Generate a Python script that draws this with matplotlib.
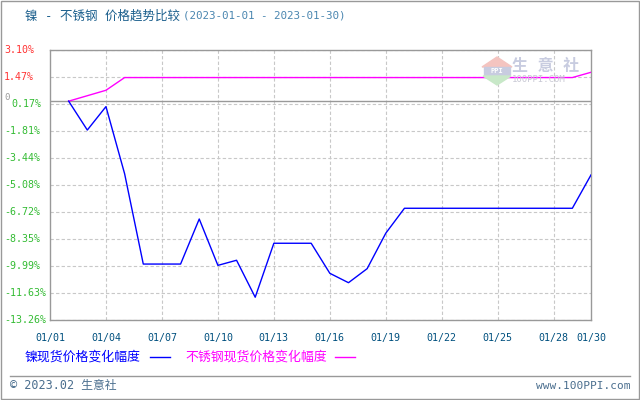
import matplotlib
matplotlib.use("Agg")
import matplotlib.pyplot as plt
from matplotlib.patches import Polygon, Rectangle
from matplotlib.lines import Line2D

plt.rcParams['font.family'] = ['DejaVu Sans Mono', 'Noto Sans CJK SC']

# days of January 2023
days = list(range(2, 31))
nickel = [0.0, -1.75, -0.33, -4.4, -9.87, -9.87, -9.87, -7.14, -9.95, -9.64,
          -11.88, -8.61, -8.61, -8.61, -10.43, -11.0, -10.15, -8.0, -6.49,
          -6.49, -6.49, -6.49, -6.49, -6.49, -6.49, -6.49, -6.49, -6.49, -4.47]
steel = [0.0, 0.33, 0.66, 1.43, 1.43, 1.43, 1.43, 1.43, 1.43, 1.43,
         1.43, 1.43, 1.43, 1.43, 1.43, 1.43, 1.43, 1.43, 1.43,
         1.43, 1.43, 1.43, 1.43, 1.43, 1.43, 1.43, 1.43, 1.43, 1.75]

y_ticks = [3.10, 1.47, -0.17, -1.81, -3.44, -5.08, -6.72, -8.35, -9.99, -11.63, -13.26]
y_labels = ['3.10%', '1.47%', '0.17%', '-1.81%', '-3.44%', '-5.08%', '-6.72%',
            '-8.35%', '-9.99%', '-11.63%', '-13.26%']
x_ticks = [1, 4, 7, 10, 13, 16, 19, 22, 25, 28, 30]
x_labels = ['01/01', '01/04', '01/07', '01/10', '01/13', '01/16', '01/19',
            '01/22', '01/25', '01/28', '01/30']

W, H = 640, 400


def fx(px):
    return px / W


def fy(py):
    return 1 - py / H


fig = plt.figure(figsize=(6.4, 4.0), dpi=100)
ax = fig.add_axes([fx(50), fy(320), fx(591) - fx(50), fy(50) - fy(320)])

ax.set_xlim(1, 30)
ax.set_ylim(-13.26, 3.10)

# grid
for t in y_ticks:
    ax.axhline(t, color='#c8c8c8', lw=0.8, ls=(0, (3, 2)), zorder=1)
for t in x_ticks[1:-1]:
    ax.axvline(t, color='#c8c8c8', lw=0.8, ls=(0, (3, 2)), zorder=1)
ax.axhline(0, color='#999999', lw=1.0, zorder=2)

for s in ax.spines.values():
    s.set_color('#999999')
    s.set_linewidth(1.0)

ax.set_xticks([])
ax.set_yticks([])

# watermark
ax_px = lambda px, py: (fx(px), fy(py))
fig.patches.append(Polygon([ax_px(497, 57), ax_px(482, 67), ax_px(512, 67)],
                           closed=True, transform=fig.transFigure,
                           color='#f4c4c0', zorder=0))
fig.patches.append(Rectangle(ax_px(484, 75), fx(26), fy(67) - fy(75),
                             transform=fig.transFigure, color='#c8cce0', zorder=0))
fig.patches.append(Polygon([ax_px(483, 76), ax_px(511, 76), ax_px(497, 85)],
                           closed=True, transform=fig.transFigure,
                           color='#c8e8c8', zorder=0))
fig.text(fx(497), fy(71), 'PPI', fontsize=5, color='white', ha='center',
         va='center', weight='bold')
fig.text(fx(512), fy(66), '生 意 社', fontsize=11.5, color='#c8cce0',
         ha='left', va='center', weight='bold')
fig.text(fx(512), fy(80), '100PPI.COM', fontsize=6.5, color='#c8c8d4',
         ha='left', va='center')

ax.plot(days, steel, color='#ff00ff', lw=1.0, zorder=4)
ax.plot(days, nickel, color='#0000ff', lw=1.0, zorder=5)

# y tick labels (left aligned like the source)
for t, lab in zip(y_ticks, y_labels):
    c = '#ff3333' if t > 0 else '#33bb33'
    x0 = 11 if lab == '0.17%' else 4
    fig.text(fx(x0), ax.transData.transform((1, t))[1] / (H), lab,
             ha='left', va='center', fontsize=7.2, color=c)
fig.text(fx(4), fy(98), '0', fontsize=6.5, color='#999999', ha='left', va='center')

# x tick labels
for t, lab in zip(x_ticks, x_labels):
    ax.text(t, -0.065, lab, transform=ax.get_xaxis_transform(), ha='center',
            va='center', fontsize=7.2, color='#00507f')

# title
fig.text(fx(25), fy(16), '镍 - 不锈钢 价格趋势比较', fontsize=9, color='#1a5e8c',
         ha='left', va='center')
fig.text(fx(183), fy(16), '(2023-01-01 - 2023-01-30)', fontsize=7.8,
         color='#4a86b0', ha='left', va='center')

# legend
fig.text(fx(25), fy(357), '镍现货价格变化幅度', fontsize=9.3, color='#0000ff',
         ha='left', va='center')
fig.add_artist(Line2D([fx(150), fx(170)], [fy(357), fy(357)], color='#0000ff',
                      lw=1.0, transform=fig.transFigure))
fig.text(fx(185), fy(357), '不锈钢现货价格变化幅度', fontsize=9.3, color='#ff00ff',
         ha='left', va='center')
fig.add_artist(Line2D([fx(335), fx(355)], [fy(357), fy(357)], color='#ff00ff',
                      lw=1.0, transform=fig.transFigure))

# footer
fig.add_artist(Line2D([fx(10), fx(630)], [fy(376), fy(376)], color='#999999',
                      lw=1.0, transform=fig.transFigure))
fig.text(fx(10), fy(386), '© 2023.02 生意社', fontsize=8.5, color='#4a6e8e',
         ha='left', va='center')
fig.text(fx(630), fy(386), 'www.100PPI.com', fontsize=8, color='#4a6e8e',
         ha='right', va='center')

# outer border
fig.patches.append(Rectangle((0.001, 0.002), 0.997, 0.996, fill=False,
                             edgecolor='#999999', lw=1.0,
                             transform=fig.transFigure))

fig.savefig('out.png', dpi=100)
